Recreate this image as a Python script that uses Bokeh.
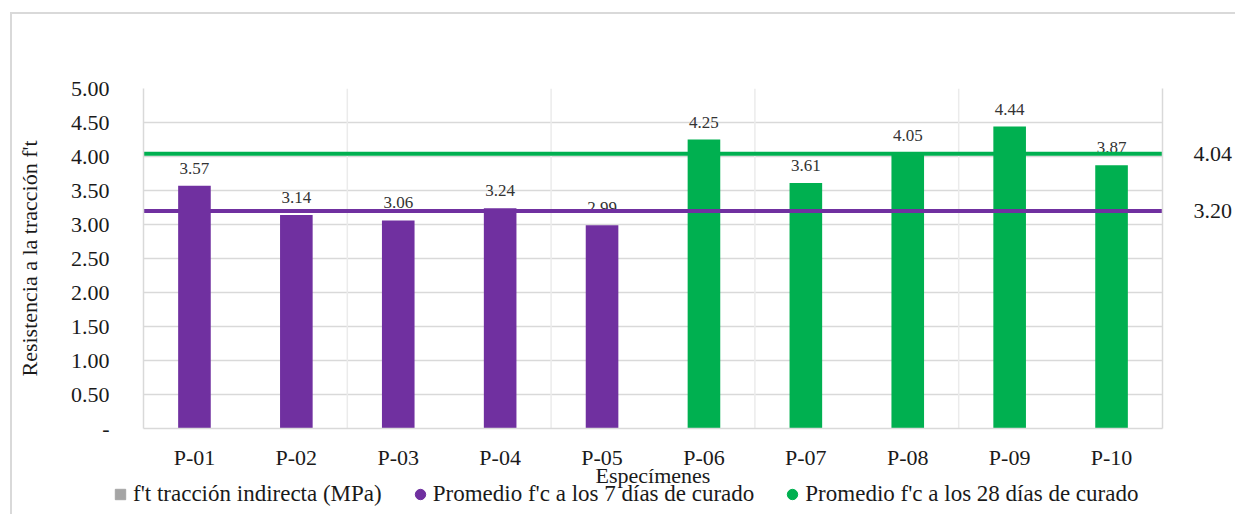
from bokeh.plotting import figure
from bokeh.layouts import column
from bokeh.models import (FactorRange, Range1d, LinearAxis, FixedTicker,
                          NumeralTickFormatter, ColumnDataSource, Legend,
                          LegendItem, Span)
from bokeh.core.properties import value
from bokeh.embed import file_html
from bokeh.resources import INLINE

# --- data -------------------------------------------------------------
specimens = ["P-01", "P-02", "P-03", "P-04", "P-05",
             "P-06", "P-07", "P-08", "P-09", "P-10"]
ft_values = [3.57, 3.14, 3.06, 3.24, 2.99, 4.25, 3.61, 4.05, 4.44, 3.87]
curing_days = [7, 7, 7, 7, 7, 28, 28, 28, 28, 28]
avg_7 = 3.20
avg_28 = 4.04
y_ticks = [0.0, 0.5, 1.0, 1.5, 2.0, 2.5, 3.0, 3.5, 4.0, 4.5, 5.0]
legend_labels = ["f't tracción indirecta (MPa)",
                 "Promedio f'c a los 7 días de curado",
                 "Promedio f'c a los 28 días de curado"]

# --- styling ----------------------------------------------------------
PURPLE = "#7030A0"
GREEN = "#00B050"
GRAY = "#A5A5A5"
GRID = "#D9D9D9"
FONT = "Liberation Serif"
TEXT = "#1A1A1A"

colors = [PURPLE if d == 7 else GREEN for d in curing_days]
source = ColumnDataSource(dict(
    specimen=specimens,
    ft=ft_values,
    color=colors,
    label=[f"{v:.2f}" for v in ft_values],
))

p = figure(width=1235, height=490,
           x_range=FactorRange(*specimens, range_padding=0),
           y_range=Range1d(0, 5),
           output_backend="svg", toolbar_location=None,
           min_border_left=143, min_border_right=70,
           min_border_top=88, min_border_bottom=62)
p.frame_align = False
p.outline_line_color = None
p.background_fill_color = "white"
p.border_fill_alpha = 0

# horizontal grid
p.xgrid.visible = False
p.ygrid.grid_line_color = GRID
p.ygrid.grid_line_width = 1.5
p.ygrid.ticker = FixedTicker(ticks=y_ticks)

# vertical separators every two specimens
n = len(specimens)
for b in range(2, n, 2):
    p.add_layout(Span(location=b, dimension="height",
                      line_color="#EBEBEB", line_width=1.5, level="underlay"))

# left axis
yax = p.yaxis[0]
yax.ticker = FixedTicker(ticks=y_ticks)
yax.formatter = NumeralTickFormatter(format="0.00")
yax.major_label_overrides = {0: "-"}
yax.axis_label = "Resistencia a la tracción f't"
yax.axis_label_standoff = 26
yax.major_label_standoff = 28

# bottom axis
xax = p.xaxis[0]
xax.axis_label = "Especímenes"
xax.axis_label_standoff = -10
xax.major_label_standoff = 10

for ax in (xax, yax):
    ax.axis_line_color = GRID
    ax.axis_line_width = 1.5
    ax.major_tick_line_color = None
    ax.minor_tick_line_color = None
    ax.major_label_text_font = FONT
    ax.major_label_text_font_size = "22px"
    ax.major_label_text_color = TEXT
    ax.axis_label_text_font = FONT
    ax.axis_label_text_font_size = "22px"
    ax.axis_label_text_font_style = "normal"
    ax.axis_label_text_color = TEXT

# right axis showing the two average values
rax = LinearAxis(ticker=FixedTicker(ticks=[avg_7, avg_28]),
                 formatter=NumeralTickFormatter(format="0.00"))
rax.axis_line_color = GRID
rax.axis_line_width = 1.5
rax.major_tick_line_color = None
rax.minor_tick_line_color = None
rax.major_label_standoff = 25
rax.major_label_text_font = FONT
rax.major_label_text_font_size = "22px"
rax.major_label_text_color = TEXT
p.add_layout(rax, "right")

# bars
p.vbar(x="specimen", top="ft", width=0.32, fill_color="color",
       line_color=None, source=source)

# value labels above bars
p.text(x="specimen", y="ft", text="label", source=source,
       text_align="center", text_baseline="bottom", y_offset=-12,
       text_font=value(FONT), text_font_size=value("17px"),
       text_color="#333333")

# average lines
p.line(x=[0, n], y=[avg_7, avg_7], line_color=PURPLE, line_width=4)
p.line(x=[0, n], y=[avg_28, avg_28], line_color=GREEN, line_width=4)

# --- legend strip -----------------------------------------------------
lg = figure(width=1235, height=34, x_range=Range1d(0, 1), y_range=Range1d(0, 1),
            x_axis_type=None, y_axis_type=None,
            output_backend="svg", toolbar_location=None, min_border=0)
lg.frame_align = False
lg.grid.visible = False
lg.outline_line_color = None
lg.background_fill_alpha = 0
lg.border_fill_alpha = 0
lg.margin = (-10, 0, 0, 0)   # tuck the strip up under the axis title

# swatch renderers (kept outside the visible range)
r_bar = lg.scatter(x=[-1], y=[-1], marker="square", fill_color=GRAY, line_color=GRAY)
r_7 = lg.scatter(x=[-1], y=[-1], marker="circle", fill_color=PURPLE, line_color=PURPLE)
r_28 = lg.scatter(x=[-1], y=[-1], marker="circle", fill_color=GREEN, line_color=GREEN)

legend = Legend(items=[LegendItem(label=legend_labels[0], renderers=[r_bar]),
                       LegendItem(label=legend_labels[1], renderers=[r_7]),
                       LegendItem(label=legend_labels[2], renderers=[r_28])],
                orientation="horizontal", location=(107, 7),
                border_line_color=None, background_fill_alpha=0,
                padding=0, margin=0, spacing=25,
                glyph_width=26, glyph_height=26, label_standoff=0,
                label_text_font=FONT, label_text_font_size="23px",
                label_text_color=TEXT)
lg.add_layout(legend, "center")

layout = column(p, lg, spacing=0)
# thin chart-area border behind the transparent canvases
layout.styles = {
    "background": ("linear-gradient(#D9D9D9, #D9D9D9) 10px 12px / 1225px 2px no-repeat, "
                   "linear-gradient(#D9D9D9, #D9D9D9) 10px 12px / 2px 502px no-repeat, "
                   "#FFFFFF"),
}

open("out.html", "w").write(file_html(layout, INLINE))
